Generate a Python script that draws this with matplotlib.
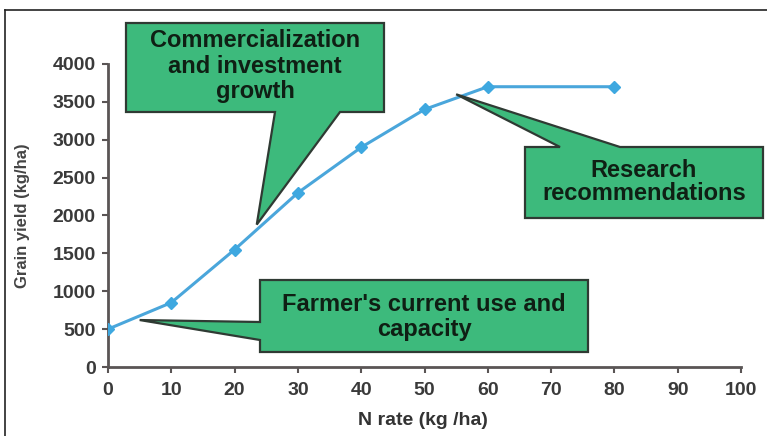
import matplotlib
matplotlib.use("Agg")
import matplotlib.pyplot as plt
from matplotlib.patches import Polygon
from matplotlib.lines import Line2D

plt.rcParams['font.family'] = ['Liberation Sans', 'DejaVu Sans']

# data
n_rate = [0, 10, 20, 30, 40, 50, 60, 80]
grain_yield = [500, 850, 1550, 2300, 2900, 3400, 3700, 3700]
x_ticks = [0, 10, 20, 30, 40, 50, 60, 70, 80, 90, 100]
y_ticks = [0, 500, 1000, 1500, 2000, 2500, 3000, 3500, 4000]

callout_texts = ["Commercialization\nand investment\ngrowth",
                 "Research\nrecommendations",
                 "Farmer's current use and\ncapacity"]
# where each callout points (data coords)
callout_tips = [(23.5, 1880), (55, 3600), (5, 620)]

W, H = 767, 436
fig = plt.figure(figsize=(W / 100, H / 100), dpi=100)
ax = fig.add_axes([108 / W, 1 - 367 / H, 633 / W, 303 / H])

line_col = "#4aa6db"
ax.plot(n_rate, grain_yield, color=line_col, lw=2.2, marker="D", ms=6.5,
        mfc="#3ea8e0", mec="#3ea8e0", zorder=3)

ax.set_xlim(0, 100)
ax.set_ylim(0, 4000)
ax.set_xticks(x_ticks)
ax.set_yticks(y_ticks)

spine_col = "#5a5555"
for s in ["top", "right"]:
    ax.spines[s].set_visible(False)
for s in ["left", "bottom"]:
    ax.spines[s].set_color(spine_col)
    ax.spines[s].set_linewidth(2.0)
ax.tick_params(direction="out", length=4, width=1.5, color=spine_col,
               labelsize=14, labelcolor="#3a3a3a")
ax.tick_params(axis="x", pad=7)
ax.tick_params(axis="y", pad=5)
for lab in ax.get_xticklabels() + ax.get_yticklabels():
    lab.set_fontweight("bold")

ax.set_xlabel("N rate (kg /ha)", fontsize=14, fontweight="bold", color="#333333", va="center")
ax.set_ylabel("Grain yield (kg/ha)", fontsize=12, fontweight="bold", color="#444444", va="center")
ax.xaxis.set_label_coords(0.497, -0.176)
ax.yaxis.set_label_coords(-0.135, 0.5)


def to_data(px, py):
    # image pixel (origin top-left) -> data coords
    return tuple(ax.transData.inverted().transform((px, H - py)))


green = "#3dba7c"
edge = "#2f3a33"
txt_col = "#0f1f14"

# callout outlines in image pixels, tip inserted from data coords
shapes = [
    [(126, 23), (384, 23), (384, 112), (340, 112), None, (275, 112), (126, 112)],
    [(525, 147), (560, 147), None, (620, 147), (763, 147), (763, 218), (525, 218)],
    [(260, 280), (588, 280), (588, 352), (260, 352), (260, 340), None, (260, 322)],
]
text_pos = [(255, 66), (644, 182), (424, 317)]
spacing = [1.13, 1.03, 1.1]

for shape, tip, label, (tx, ty), ls in zip(shapes, callout_tips, callout_texts, text_pos, spacing):
    verts = [tip if v is None else to_data(*v) for v in shape]
    poly = Polygon(verts, closed=True, facecolor=green, edgecolor=edge, lw=1.6,
                   clip_on=False, zorder=4)
    ax.add_patch(poly)
    cx, cy = to_data(tx, ty)
    ax.text(cx, cy, label, ha="center", va="center", fontsize=17, fontweight="bold",
            color=txt_col, linespacing=ls, zorder=5, clip_on=False)

# frame lines along the top and left of the picture
fig.add_artist(Line2D([5 / W, 1], [1 - 10 / H, 1 - 10 / H], color="#222222", lw=1.2))
fig.add_artist(Line2D([5 / W, 5 / W], [0, 1 - 10 / H], color="#222222", lw=1.2))

fig.savefig("out.png", dpi=100)
